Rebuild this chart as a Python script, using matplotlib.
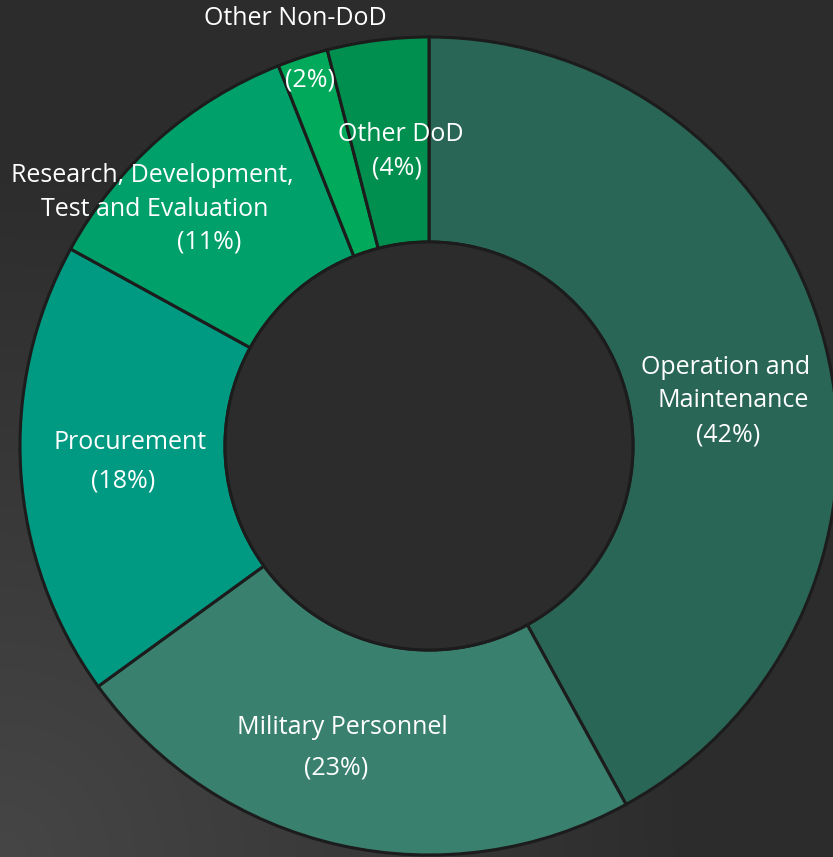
import numpy as np
import matplotlib
matplotlib.use("Agg")
import matplotlib.pyplot as plt

# ---- data ----
categories = ["Operation and Maintenance", "Military Personnel", "Procurement",
              "Research, Development, Test and Evaluation", "Other Non-DoD", "Other DoD"]
shares = [42, 23, 18, 11, 2, 4]
colors = ["#2a6655", "#3a806e", "#009a82", "#00a06a", "#00aa5a", "#008f4e"]

# label line breaks for display (text only)
label_lines = [["Operation and", "Maintenance"], ["Military Personnel"], ["Procurement"],
               ["Research, Development,", "Test and Evaluation"], ["Other Non-DoD"], ["Other DoD"]]

# layout (pixel coords, y from top): list of line centers per label, then percent position
W, H = 833, 857
label_pos = [
    [(726, 367), (733, 400)],
    [(342, 727)],
    [(130, 442)],
    [(152, 175), (155, 209)],
    [(295, 18)],
    [(401, 134)],
]
pct_pos = [(728, 435), (336, 768), (123, 481), (209, 242), (310, 80), (397, 168)]

cx, cy, R, r = 429, 446, 409, 204

plt.rcParams['font.family'] = ['Open Sans', 'DejaVu Sans']
fig = plt.figure(figsize=(W / 100, H / 100), dpi=100)
ax = fig.add_axes([0, 0, 1, 1])

# background gradient: lighter at bottom-left, darker toward top-right
yy, xx = np.mgrid[0:H, 0:W]
d = np.sqrt(xx ** 2 + (H - yy) ** 2)
t = np.clip(d / 700.0, 0, 1)
val = (0x46 * (1 - t) + 0x2c * t) / 255.0
bg = np.dstack([val, val, val])
ax.imshow(bg, extent=[0, W, 0, H], origin="upper", zorder=0, aspect="auto")

wedges, _ = ax.pie(shares, colors=colors, startangle=90, counterclock=False,
                   radius=R, center=(cx, H - cy),
                   wedgeprops=dict(width=R - r, edgecolor="#1c1c1c", linewidth=2.2),
                   frame=False)
for w in wedges:
    w.set_zorder(2)
inner = plt.Circle((cx, H - cy), r, facecolor="#2c2c2c", edgecolor="#1c1c1c",
                   linewidth=2.2, zorder=3)
ax.add_patch(inner)

fs = 18
for lines, poss, val_, ppos in zip(label_lines, label_pos, shares, pct_pos):
    for txt, (x, y) in zip(lines, poss):
        ax.text(x, H - y, txt, color="white", fontsize=fs, ha="center", va="center", zorder=5)
    ax.text(ppos[0], H - ppos[1], f"({val_}%)", color="white", fontsize=fs,
            ha="center", va="center", zorder=5)

ax.set_xlim(0, W)
ax.set_ylim(0, H)
ax.set_aspect("auto")
ax.axis("off")
fig.savefig("out.png", dpi=100, facecolor="#2c2c2c")
